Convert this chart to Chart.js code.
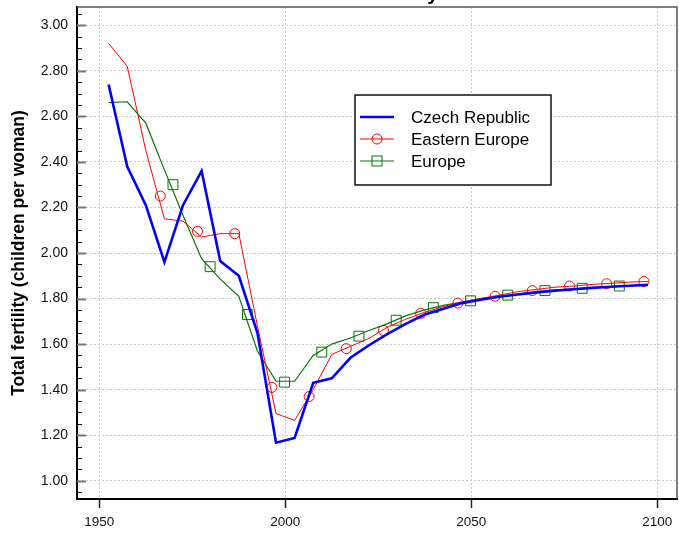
<!DOCTYPE html>
<html>
<head>
<meta charset="utf-8">
<script src="https://cdn.jsdelivr.net/npm/chart.js@4.4.1/dist/chart.umd.min.js"></script>
<style>
  body { margin: 0; background: #fff; }
  #wrap { width: 679px; height: 535px; }
</style>
</head>
<body>
<div id="wrap"><canvas id="chart" width="679" height="535"></canvas></div>
<script>
// five-year periods, plotted at their midpoints
const years = [1952.5, 1957.5, 1962.5, 1967.5, 1972.5, 1977.5, 1982.5, 1987.5, 1992.5, 1997.5,
               2002.5, 2007.5, 2012.5, 2017.5, 2022.5, 2027.5, 2032.5, 2037.5, 2042.5, 2047.5,
               2052.5, 2057.5, 2062.5, 2067.5, 2072.5, 2077.5, 2082.5, 2087.5, 2092.5, 2097.5];

const czech = [2.74, 2.38, 2.21, 1.96, 2.21, 2.36, 1.965, 1.90, 1.65, 1.167,
               1.188, 1.43, 1.45, 1.54, 1.595, 1.645, 1.69, 1.73, 1.755, 1.78,
               1.795, 1.808, 1.818, 1.827, 1.835, 1.841, 1.847, 1.852, 1.856, 1.86];

const easternEurope = [2.92, 2.82, 2.45, 2.15, 2.14, 2.07, 2.085, 2.085, 1.68, 1.295,
                       1.265, 1.40, 1.555, 1.59, 1.625, 1.675, 1.71, 1.74, 1.765, 1.785,
                       1.80, 1.815, 1.83, 1.84, 1.85, 1.855, 1.862, 1.867, 1.872, 1.875];

const europe = [2.66, 2.664, 2.57, 2.365, 2.165, 1.975, 1.885, 1.81, 1.57, 1.437,
                1.437, 1.55, 1.60, 1.627, 1.66, 1.69, 1.725, 1.75, 1.77, 1.785,
                1.80, 1.81, 1.82, 1.83, 1.837, 1.843, 1.848, 1.853, 1.857, 1.86];

// marker positions as they sit on the lines in the picture
const eeMarkYears = [1966.4, 1976.4, 1986.4, 1996.4, 2006.4, 2016.4, 2026.4, 2036.4, 2046.4, 2056.4, 2066.4, 2076.4, 2086.4, 2096.4];
const eeMarkVals  = [2.25, 2.095, 2.085, 1.41, 1.37, 1.58, 1.66, 1.735, 1.78, 1.81, 1.835, 1.855, 1.865, 1.875];
const euMarkYears = [1969.8, 1979.8, 1989.8, 1999.8, 2009.8, 2019.8, 2029.8, 2039.8, 2049.8, 2059.8, 2069.8, 2079.8, 2089.8];
const euMarkVals  = [2.30, 1.94, 1.73, 1.433, 1.565, 1.635, 1.705, 1.76, 1.79, 1.815, 1.835, 1.845, 1.855];

const xTicks = [1950, 2000, 2050, 2100];
const yTicks = [1.0, 1.2, 1.4, 1.6, 1.8, 2.0, 2.2, 2.4, 2.6, 2.8, 3.0];

const FONT = "'Liberation Sans', Arial, sans-serif";
const BLUE = '#0000ff', RED = '#ff0000', GREEN = '#0a730a';

const toPoints = (xs, ys) => xs.map((x, i) => ({ x: x, y: ys[i] }));

// frame, inward y ticks, legend box and the clipped title
const decor = {
    id: 'decor',
    afterDraw(chart) {
        const { ctx, chartArea: a, scales: { y } } = chart;
        ctx.save();

        ctx.strokeStyle = '#555';
        ctx.lineWidth = 1.5;
        ctx.beginPath();
        ctx.moveTo(a.left, a.top);
        ctx.lineTo(a.right, a.top);
        ctx.lineTo(a.right, a.bottom);
        ctx.stroke();

        // minor ticks every 0.05, major every 0.2, drawn inside the plot
        for (let v = 0.95; v <= 3.06; v += 0.05) {
            const py = Math.round(y.getPixelForValue(v)) + 0.5;
            if (py < a.top || py > a.bottom) continue;
            const major = Math.abs(v * 5 - Math.round(v * 5)) < 0.01;
            ctx.strokeStyle = major ? '#777' : '#111';
            ctx.lineWidth = major ? 2 : 1;
            ctx.beginPath();
            ctx.moveTo(a.left, py);
            ctx.lineTo(a.left + (major ? 9 : 5), py);
            ctx.stroke();
        }

        // legend
        const bx = 355, by = 95, bw = 196, bh = 90;
        ctx.fillStyle = '#fff';
        ctx.fillRect(bx, by, bw, bh);
        ctx.strokeStyle = '#111';
        ctx.lineWidth = 1.5;
        ctx.strokeRect(bx, by, bw, bh);
        const items = [
            { label: 'Czech Republic', color: BLUE, width: 2.5, marker: null, y: 117 },
            { label: 'Eastern Europe', color: RED, width: 1, marker: 'circle', y: 139 },
            { label: 'Europe', color: GREEN, width: 1.2, marker: 'rect', y: 161 }
        ];
        items.forEach(it => {
            ctx.strokeStyle = it.color;
            ctx.lineWidth = it.width;
            ctx.beginPath();
            ctx.moveTo(360, it.y);
            ctx.lineTo(394, it.y);
            ctx.stroke();
            ctx.lineWidth = 1;
            if (it.marker === 'circle') {
                ctx.beginPath();
                ctx.arc(377, it.y, 5, 0, Math.PI * 2);
                ctx.stroke();
            } else if (it.marker === 'rect') {
                ctx.strokeRect(372, it.y - 5, 10, 10);
            }
            ctx.fillStyle = '#000';
            ctx.font = '17px ' + FONT;
            ctx.textBaseline = 'middle';
            ctx.textAlign = 'left';
            ctx.fillText(it.label, 411, it.y + 1);
        });

        // title sits mostly above the canvas
        ctx.font = 'bold 20px ' + FONT;
        ctx.fillStyle = '#000';
        ctx.textAlign = 'center';
        ctx.textBaseline = 'alphabetic';
        ctx.fillText('Total fertility', (a.left + a.right) / 2 + 2, 0);

        ctx.restore();
    }
};

new Chart(document.getElementById('chart'), {
    type: 'line',
    data: {
        datasets: [
            {
                label: 'Czech Republic',
                data: toPoints(years, czech),
                borderColor: BLUE,
                borderWidth: 2.6,
                pointRadius: 0,
                tension: 0
            },
            {
                label: 'Eastern Europe',
                data: toPoints(years, easternEurope),
                borderColor: RED,
                borderWidth: 1,
                pointRadius: 0,
                tension: 0
            },
            {
                label: 'Europe',
                data: toPoints(years, europe),
                borderColor: GREEN,
                borderWidth: 1.2,
                pointRadius: 0,
                tension: 0
            },
            {
                label: 'Eastern Europe markers',
                data: toPoints(eeMarkYears, eeMarkVals),
                showLine: false,
                pointStyle: 'circle',
                pointRadius: 5,
                pointBorderWidth: 1,
                pointBorderColor: RED,
                pointBackgroundColor: 'rgba(0,0,0,0)'
            },
            {
                label: 'Europe markers',
                data: toPoints(euMarkYears, euMarkVals),
                showLine: false,
                pointStyle: 'rect',
                pointRadius: 7,
                pointBorderWidth: 1,
                pointBorderColor: GREEN,
                pointBackgroundColor: 'rgba(0,0,0,0)'
            }
        ]
    },
    options: {
        responsive: false,
        animation: false,
        events: [],
        layout: { autoPadding: false, padding: { top: 7, right: 2, left: 0, bottom: 0 } },
        plugins: {
            legend: { display: false },
            title: { display: false },
            tooltip: { enabled: false }
        },
        scales: {
            x: {
                type: 'linear',
                min: 1944,
                max: 2105.3,
                afterBuildTicks: s => { s.ticks = xTicks.map(v => ({ value: v })); },
                afterFit: s => { s.height = 36; s.paddingLeft = 0; s.paddingRight = 0; },
                grid: {
                    color: '#c8c8c8',
                    lineWidth: 1,
                    tickColor: '#222',
                    tickWidth: 1.5,
                    tickLength: 9,
                    tickBorderDash: []
                },
                border: { color: '#000', width: 2, dash: [2, 2] },
                ticks: {
                    color: '#111',
                    font: { family: FONT, size: 13.5 },
                    padding: 6,
                    maxRotation: 0,
                    callback: v => String(v)
                }
            },
            y: {
                min: 0.92,
                max: 3.08,
                afterBuildTicks: s => { s.ticks = yTicks.map(v => ({ value: v })); },
                afterFit: s => { s.width = 77; s.paddingTop = 0; s.paddingBottom = 0; },
                grid: {
                    color: '#c8c8c8',
                    lineWidth: 1,
                    drawTicks: false
                },
                border: { color: '#000', width: 2, dash: [2, 2] },
                ticks: {
                    color: '#111',
                    font: { family: FONT, size: 14 },
                    padding: 9,
                    callback: v => v.toFixed(2)
                },
                title: {
                    display: true,
                    text: 'Total fertility (children per woman)',
                    color: '#000',
                    font: { family: FONT, size: 17.5, weight: 'bold' },
                    padding: { top: 9, bottom: 0 }
                }
            }
        }
    },
    plugins: [decor]
});
</script>
</body>
</html>
